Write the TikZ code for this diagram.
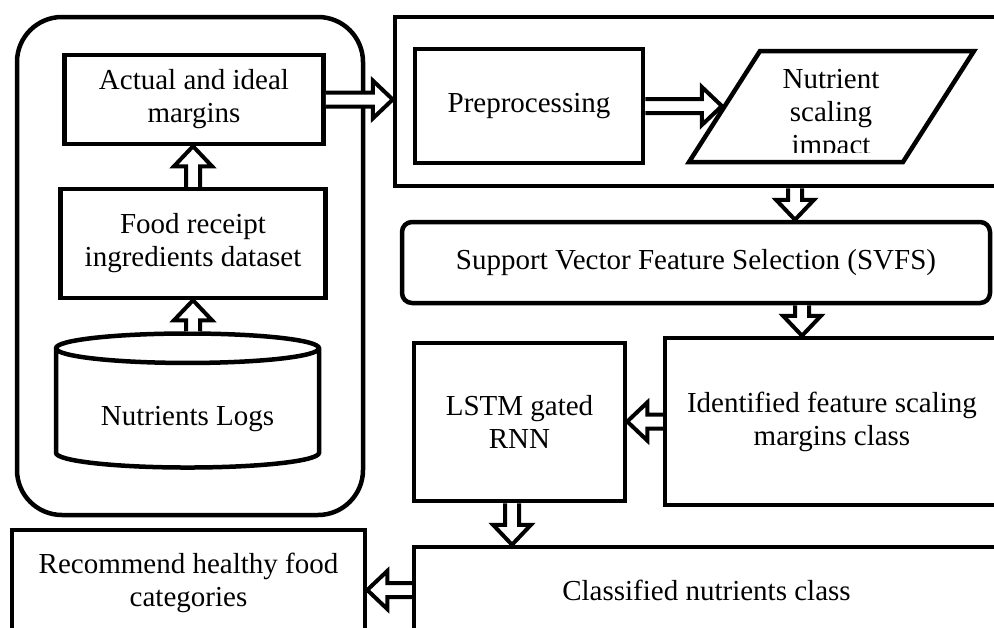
\documentclass[tikz,border=0pt]{standalone}
\usepackage{fontspec}
\setmainfont{Liberation Serif}
\usepackage{tikz}
\usetikzlibrary{calc, shapes.geometric, positioning}
\newcommand\hollowarrow[2]{\draw[line width=4pt, fill=white] let \p1=(#1), \p2=(#2), \n1={atan2(\y2-\y1,\x2-\x1)}, \n3={veclen(\x2-\x1,\y2-\y1)}, \n2={\n3-20pt} in [shift={(\p1)}, rotate=\n1] (0pt,-7pt) -- (\n2,-7pt) -- (\n2,-19pt) -- (\n3,0pt) -- (\n2,19pt) -- (\n2,7pt) -- (0pt,7pt);}

\begin{document}
\begin{tikzpicture}[x=1pt, y=-1pt, font=\fontsize{29}{33}\selectfont,
	block/.style={draw, line width=4.5pt, align=center, inner sep=0pt}]
\useasboundingbox (0,0) rectangle (994,627);
\clip (0,0) rectangle (994,627);

\node[block, rounded corners=45pt, minimum width=346pt, minimum height=498pt] (sources) at (190,266) {};
\node[block, minimum width=259pt, minimum height=89pt] (actual) at (194,99.5) {Actual and ideal\\margins};
\node[block, minimum width=265pt, minimum height=109pt] (food) at (193,243.5) {Food receipt\\ingredients dataset};
\node[block, cylinder, shape border rotate=90, aspect=0.17, minimum width=263pt, minimum height=134pt] (logs) at (187.5,409) {\raisebox{-9pt}[0.7em][0.2em]{Nutrients Logs}};

\node[block, minimum width=703pt, minimum height=169pt] (topgroup) at (746.5,101.5) {};
\node[block, minimum width=228pt, minimum height=114pt] (prep) at (529,106) {Preprocessing};
\node[block, inner sep=2pt, trapezium, trapezium left angle=63.6, trapezium right angle=116.4, trapezium stretches=true, minimum width=285pt, minimum height=111pt] (impact) at (831.5,106.5) {};
\begin{scope}
\clip (700,50) rectangle (960,152);
\node[align=center] (impacttext) at (831,115) {Nutrient\\scaling\\impact};
\end{scope}

\node[block, rounded corners=10pt, minimum width=588pt, minimum height=81pt] (svfs) at (696,262.5) {Support Vector Feature Selection (SVFS)};
\node[block, minimum width=211pt, minimum height=158pt] (lstm) at (519.5,422) {LSTM gated\\RNN};
\node[block, minimum width=334pt, minimum height=167pt] (ident) at (832,421.5) {Identified feature scaling\\margins class};
\node[block, minimum width=585pt, minimum height=86pt] (classified) at (706.5,590) {Classified nutrients class};
\node[block, minimum width=353pt, minimum height=106pt] (recommend) at (188.5,583) {Recommend healthy food\\categories};

\coordinate (down1) at (795,0);
\coordinate (down2) at (802,0);
\coordinate (down3) at (512,0);

\hollowarrow{logs.north -| food.north}{food.south}
\hollowarrow{food.north}{food.north |- actual.south}
\hollowarrow{actual.east}{actual.east -| topgroup.west}
\hollowarrow{prep.east}{prep.east -| impact.west}
\hollowarrow{topgroup.south -| down1}{svfs.north -| down1}
\hollowarrow{svfs.south -| down2}{ident.north -| down2}
\hollowarrow{ident.west}{ident.west -| lstm.east}
\hollowarrow{lstm.south -| down3}{classified.north -| down3}
\hollowarrow{classified.west}{classified.west -| recommend.east}
\end{tikzpicture}
\end{document}
